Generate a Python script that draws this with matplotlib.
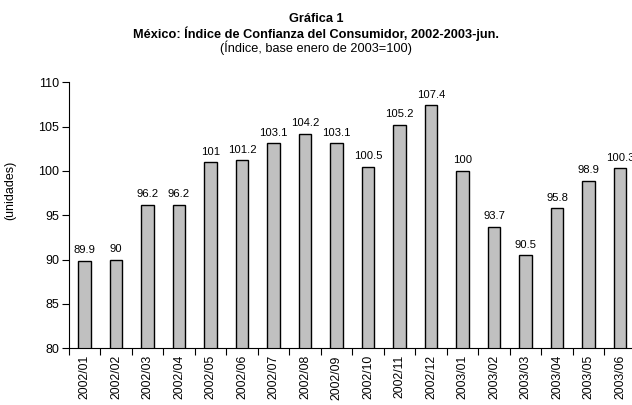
import matplotlib
matplotlib.use("Agg")
import matplotlib.pyplot as plt
import numpy as np

categories = ["2002/01", "2002/02", "2002/03", "2002/04", "2002/05", "2002/06",
              "2002/07", "2002/08", "2002/09", "2002/10", "2002/11", "2002/12",
              "2003/01", "2003/02", "2003/03", "2003/04", "2003/05", "2003/06"]
values = [89.9, 90, 96.2, 96.2, 101, 101.2, 103.1, 104.2, 103.1, 100.5,
          105.2, 107.4, 100, 93.7, 90.5, 95.8, 98.9, 100.3]
value_labels = ["89.9", "90", "96.2", "96.2", "101", "101.2", "103.1", "104.2", "103.1",
                "100.5", "105.2", "107.4", "100", "93.7", "90.5", "95.8", "98.9", "100.3"]
yticks = [80, 85, 90, 95, 100, 105, 110]

plt.rcParams['font.family'] = ['Liberation Sans', 'DejaVu Sans']

fig = plt.figure(figsize=(6.32, 4.05), dpi=100)
W, H = 632, 405
left, right, top, bottom = 68.75, 635.75, 82.3, 348.3
ax = fig.add_axes([left / W, 1 - bottom / H, (right - left) / W, (bottom - top) / H])

x = np.arange(len(categories))
ax.bar(x, values, width=0.4, color="#C0C0C0", edgecolor="black", linewidth=1.0, zorder=2)
for xi, v, lab in zip(x, values, value_labels):
    ax.annotate(lab, (xi, v), xytext=(0, 4), textcoords="offset points",
                ha="center", va="bottom", fontsize=8.1)

ax.set_xlim(-0.5, len(categories) - 0.5)
ax.set_ylim(80, 110)
ax.set_yticks(yticks)
ax.set_yticklabels([str(t) for t in yticks], fontsize=9)
ax.set_xticks(x)
ax.set_xticklabels(categories, rotation=90, fontsize=8.8)
ax.set_xticks(np.arange(-0.5, len(categories)), minor=True)
ax.tick_params(axis='x', which='major', length=0, pad=5)
ax.tick_params(axis='x', which='minor', length=5, width=0.8, direction='out')
ax.tick_params(axis='y', length=5, width=0.8, direction='out', pad=2)

for s in ['top', 'right']:
    ax.spines[s].set_visible(False)
for s in ['left', 'bottom']:
    ax.spines[s].set_linewidth(0.8)

ax.set_ylabel("(unidades)", fontsize=9)
ax.yaxis.set_label_coords(-0.093, 0.594)

fig.text(0.5, 1 - 19 / H, "Gráfica 1", ha="center", va="center", fontsize=9.2, fontweight="bold")
fig.text(0.5, 1 - 34 / H, "México: Índice de Confianza del Consumidor, 2002-2003-jun.",
         ha="center", va="center", fontsize=9.2, fontweight="bold")
fig.text(0.5, 1 - 48 / H, "(Índice, base enero de 2003=100)", ha="center", va="center", fontsize=9.2)

fig.savefig("out.png", dpi=100)
